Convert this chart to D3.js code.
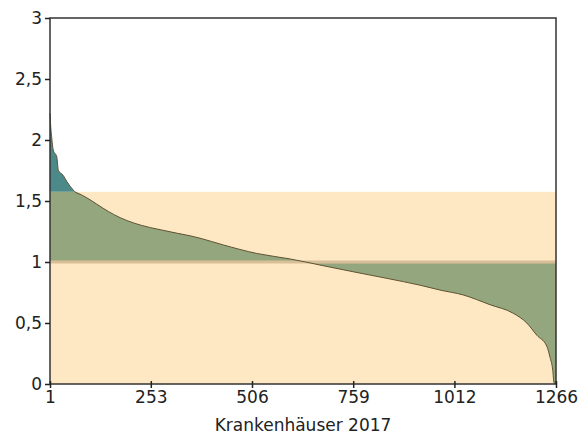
<!DOCTYPE html>
<html><head><meta charset="utf-8">
<script src="https://cdn.jsdelivr.net/npm/d3@7"></script>
<style>body{margin:0;background:#fff}svg{display:block}text{font-family:Verdana,"DejaVu Sans",sans-serif;fill:#222}</style>
</head><body>
<svg id="c" width="579" height="440"></svg>
<script>
const hospitalIndex = [1,3,5,9,18,22,34,43,59,63,80,101,134,160,193,230,276,320,351,376,434,518,601,640,676,759,843,926,976,1034,1101,1159,1193,1218,1243,1251,1258,1261,1266];
const ratioValues   = [2.22,2.10,2.03,1.92,1.86,1.75,1.71,1.66,1.59,1.576,1.55,1.51,1.44,1.39,1.34,1.30,1.265,1.235,1.215,1.195,1.14,1.07,1.025,1.0,0.975,0.92,0.866,0.81,0.77,0.73,0.65,0.58,0.50,0.40,0.31,0.22,0.11,0.01,0.0];
const xTickValues = [1,253,506,759,1012,1266];
const yTickValues = [0,0.5,1,1.5,2,2.5,3];
const bandUpper = 1.575;
const reference = 1;
const xTitle = "Krankenhäuser 2017";

const data = hospitalIndex.map((h,i)=>({h, v: ratioValues[i]}));
const L=50, R=556, T=18, B=384;
const svg = d3.select("#c");
const x = d3.scaleLinear().domain([1,1266]).range([L,R]);
const y = d3.scaleLinear().domain([0,3]).range([B,T]);
const cv = d3.curveMonotoneX;

svg.append("rect").attr("x",L).attr("y",y(bandUpper)).attr("width",R-L).attr("height",B-y(bandUpper)).attr("fill","#fee8c4");

svg.append("path").datum(data)
  .attr("d", d3.area().curve(cv).x(d=>x(d.h)).y0(y(reference)).y1(d=>y(Math.min(d.v,bandUpper))))
  .attr("fill","#94a67e");
svg.append("path").datum(data)
  .attr("d", d3.area().curve(cv).x(d=>x(d.h)).y0(y(bandUpper)).y1(d=>y(Math.max(d.v,bandUpper))))
  .attr("fill","#4b8a88");

svg.append("line").attr("x1",L).attr("x2",R).attr("y1",y(reference)).attr("y2",y(reference))
  .attr("stroke","#d9bf98").attr("stroke-width",3);

svg.append("path").datum(data)
  .attr("d", d3.line().curve(cv).x(d=>x(d.h)).y(d=>y(d.v)))
  .attr("fill","none").attr("stroke","#5e5232").attr("stroke-width",1);

svg.append("rect").attr("x",L).attr("y",T).attr("width",R-L).attr("height",B-T)
  .attr("fill","none").attr("stroke","#333").attr("stroke-width",1.5);

const ff = 'Verdana,"DejaVu Sans",sans-serif';
const fmt = d=>String(d).replace(".",",");
const ya = svg.append("g").attr("transform",`translate(${L},0)`)
  .call(d3.axisLeft(y).tickValues(yTickValues).tickFormat(fmt).tickSize(5).tickPadding(3));
ya.select(".domain").remove();
ya.selectAll("text").style("font-size","17px").style("font-family",ff).attr("fill","#222");
ya.selectAll("line").attr("stroke","#222").attr("stroke-width",1.5);

const xa = svg.append("g").attr("transform",`translate(0,${B})`)
  .call(d3.axisBottom(x).tickValues(xTickValues).tickFormat(d3.format("d")).tickSize(4).tickPadding(3));
xa.select(".domain").remove();
xa.selectAll("text").style("font-size","17px").style("font-family",ff).attr("fill","#222");
xa.selectAll("line").attr("stroke","#222").attr("stroke-width",1.5).attr("y1",-3);

svg.append("text").attr("x",(L+R)/2).attr("y",431).attr("text-anchor","middle")
  .style("font-size","17px").style("font-family",ff).text(xTitle);
</script>
</body></html>
